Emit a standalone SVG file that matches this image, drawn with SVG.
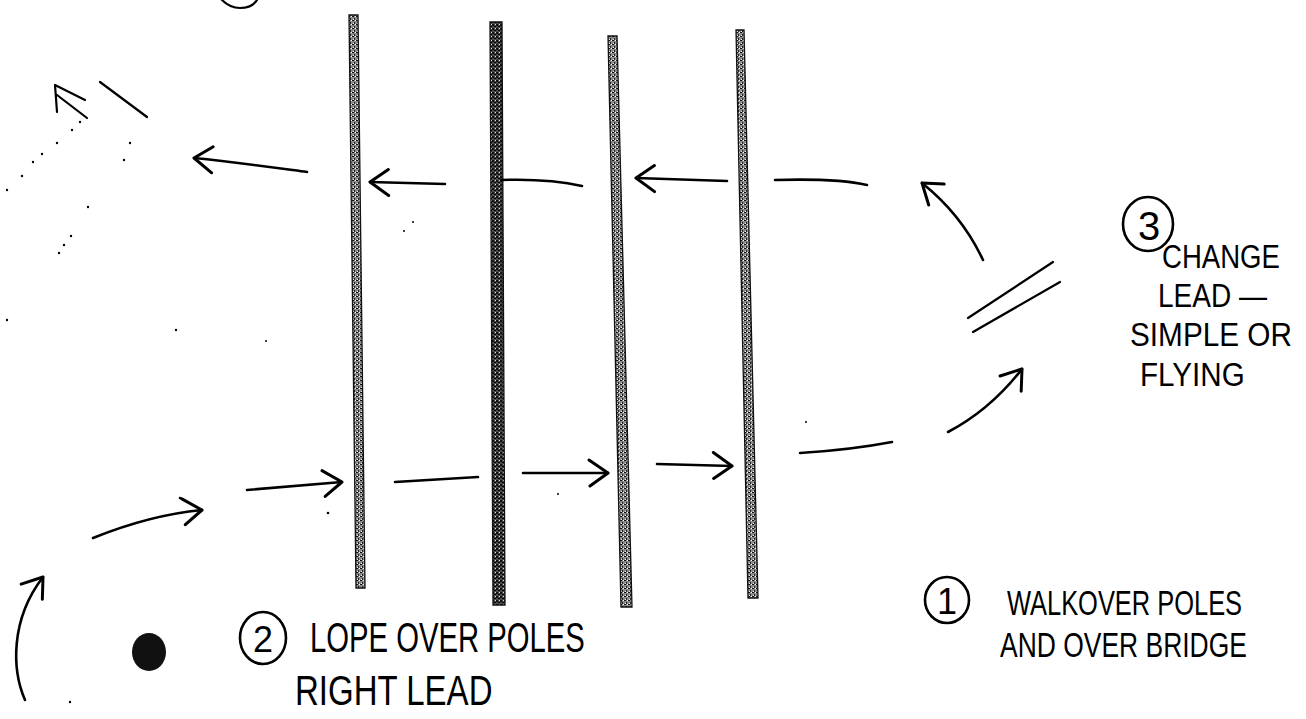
<svg xmlns="http://www.w3.org/2000/svg" width="1306" height="719" viewBox="0 0 1306 719">
<defs>
<pattern id="stip" width="4" height="4" patternUnits="userSpaceOnUse">
<rect width="4" height="4" fill="#8a8a8a"/>
<rect x="0" y="0" width="2" height="1" fill="#111"/>
<rect x="2" y="2" width="1" height="2" fill="#222"/>
<rect x="3" y="0" width="1" height="1" fill="#fff"/>
<rect x="1" y="3" width="1" height="1" fill="#eee"/>
</pattern>
<pattern id="stipDark" width="4" height="4" patternUnits="userSpaceOnUse">
<rect width="4" height="4" fill="#4a4a4a"/>
<rect x="0" y="0" width="2" height="2" fill="#111"/>
<rect x="2" y="2" width="2" height="1" fill="#000"/>
<rect x="3" y="0" width="1" height="1" fill="#ddd"/>
</pattern>
<marker id="head" viewBox="0 0 24 30" refX="22" refY="15" markerWidth="24" markerHeight="30" markerUnits="userSpaceOnUse" orient="auto">
<path d="M3,2 L22,15 L4,28" fill="none" stroke="#000" stroke-width="3" stroke-linecap="round" stroke-linejoin="round"/>
</marker>
</defs>
<style>
.pole{stroke:#111;stroke-width:1.3}
.conn path{fill:none;stroke:#000;stroke-width:2.6;stroke-linecap:round}
.arr{marker-end:url(#head)}
.mark{fill:none;stroke:#000;stroke-width:2.2;stroke-linecap:round}
.hand{font-family:"Liberation Sans","DejaVu Sans",sans-serif;fill:#000}
.r3{font-size:34px}
.r1{font-size:35px}
.r2{font-size:42px}
.ring{fill:none;stroke:#000;stroke-width:2.6}
.dot{fill:#000}
</style>
<rect width="1306" height="719" fill="#fff"/>

<g id="poles">
<polygon id="pole1" class="pole" fill="url(#stip)" points="349,15 358,15 365,588 356,588"/>
<polygon id="pole2" class="pole" fill="url(#stipDark)" points="490,22 502,22 505,605 493,605"/>
<polygon id="pole3" class="pole" fill="url(#stip)" points="608,36 617,36 632,607 621,607"/>
<polygon id="pole4" class="pole" fill="url(#stip)" points="736,30 744,30 758,598 748,598"/>
</g>

<g id="connectors" class="conn">
<path class="arr" d="M307,172 C270,167 235,162 194,158"/>
<path class="arr" d="M445,184 L370,182"/>
<path d="M501,180 C530,179 560,181 582,186"/>
<path class="arr" d="M727,181 L636,178"/>
<path d="M775,180 C810,179 845,180 867,185"/>
<path class="arr" d="M983,260 Q962,215 922,183"/>
<path class="arr" d="M948,432 Q990,410 1022,369"/>
<path d="M800,453 Q850,450 892,442"/>
<path class="arr" d="M657,464 L732,466"/>
<path class="arr" d="M523,473 L608,473"/>
<path d="M395,482 L478,477"/>
<path class="arr" d="M247,490 L342,482"/>
<path class="arr" d="M93,538 Q150,515 202,510"/>
<path class="arr" d="M25,700 C12,670 10,620 43,577"/>
</g>

<g id="marks">
<path class="mark" d="M55,85 L85,100 M57,95 L87,118 M55,85 L57,112"/>
<path class="mark" d="M100,82 L147,117"/>
<path class="mark" d="M968,318 L1053,262"/>
<path class="mark" d="M973,332 L1060,282"/>
<path class="mark" d="M222,0 Q230,8 240,8 Q252,8 257,0"/>
<ellipse id="blob" cx="149" cy="652" rx="17" ry="19" fill="#111"/>
<g id="specks">
<circle class="dot" cx="80" cy="122" r="1.2"/>
<circle class="dot" cx="72" cy="130" r="1.2"/>
<circle class="dot" cx="57" cy="143" r="1.2"/>
<circle class="dot" cx="42" cy="154" r="1.2"/>
<circle class="dot" cx="33" cy="162" r="1.2"/>
<circle class="dot" cx="22" cy="176" r="1.2"/>
<circle class="dot" cx="7" cy="190" r="1.2"/>
<circle class="dot" cx="130" cy="143" r="1.2"/>
<circle class="dot" cx="124" cy="160" r="1.2"/>
<circle class="dot" cx="88" cy="207" r="1.2"/>
<circle class="dot" cx="71" cy="236" r="1.2"/>
<circle class="dot" cx="64" cy="245" r="1.2"/>
<circle class="dot" cx="59" cy="253" r="1.2"/>
<circle class="dot" cx="7" cy="320" r="1.2"/>
<circle class="dot" cx="176" cy="330" r="1.2"/>
<circle class="dot" cx="266" cy="341" r="1"/>
<circle class="dot" cx="413" cy="222" r="1"/>
<circle class="dot" cx="404" cy="231" r="1"/>
<circle class="dot" cx="180" cy="498" r="1.3"/>
<circle class="dot" cx="328" cy="513" r="1.3"/>
<circle class="dot" cx="558" cy="494" r="1"/>
<circle class="dot" cx="70" cy="702" r="1.2"/>
<circle class="dot" cx="806" cy="422" r="1"/>
</g>
</g>

<g id="label3">
<ellipse class="ring" cx="1148" cy="224" rx="25" ry="27"/>
<text class="hand" x="1149" y="240" font-size="40" text-anchor="middle">3</text>
<text class="hand r3" transform="translate(1162,268) scale(0.811,1)">CHANGE</text>
<text class="hand r3" transform="translate(1158,307) scale(0.824,1)">LEAD —</text>
<text class="hand r3" transform="translate(1130,346) scale(0.875,1)">SIMPLE OR</text>
<text class="hand r3" transform="translate(1140,386) scale(0.871,1)">FLYING</text>
</g>

<g id="label1">
<ellipse class="ring" cx="947" cy="600" rx="22" ry="23"/>
<text class="hand" x="947" y="614" font-size="36" text-anchor="middle">1</text>
<text class="hand r1" transform="translate(1007,615) scale(0.727,1)">WALKOVER POLES</text>
<text class="hand r1" transform="translate(1000,657) scale(0.756,1)">AND OVER BRIDGE</text>
</g>

<g id="label2">
<ellipse class="ring" cx="263" cy="638" rx="23" ry="26"/>
<text class="hand" x="263" y="652" font-size="36" text-anchor="middle">2</text>
<text class="hand r2" transform="translate(310,652) scale(0.697,1)">LOPE OVER POLES</text>
<text class="hand r2" transform="translate(295,705) scale(0.786,1)">RIGHT LEAD</text>
</g>
</svg>
